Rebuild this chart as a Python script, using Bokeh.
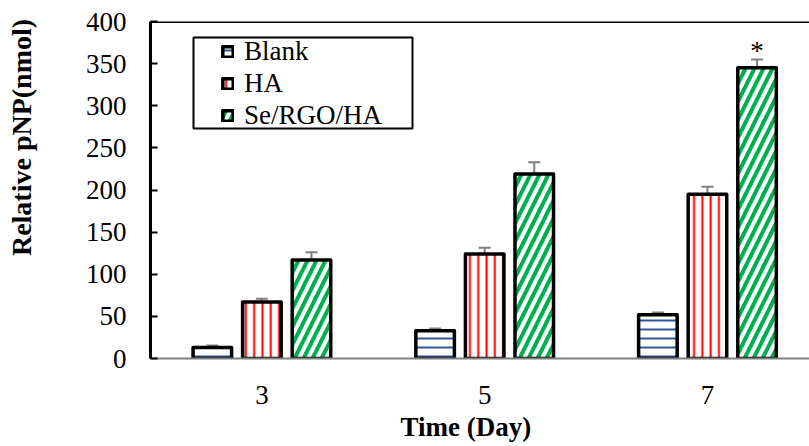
from bokeh.plotting import figure
from bokeh.models import (ColumnDataSource, FixedTicker, Legend, LegendItem, Whisker,
                          TeeHead, Span, BoxAnnotation, Title)
from bokeh.core.properties import value
from bokeh.embed import file_html
from bokeh.resources import INLINE

# ---- data ----
days = ["3", "5", "7"]
series = ["Blank", "HA", "Se/RGO/HA"]
blank = [13, 33, 52]
blank_err = [2.5, 2.5, 2.5]
ha = [67, 124, 195]
ha_err = [4, 7.5, 9]
se = [117, 219, 345]
se_err = [9, 14, 10]
se_marks = ["", "", "*"]
y_ticks = [0, 50, 100, 150, 200, 250, 300, 350, 400]
y_max = 400
x_title = "Time (Day)"
y_title = "Relative pNP(nmol)"

FONT = "Liberation Serif"

p = figure(frame_width=659, frame_height=337, x_range=(-0.5, 2.458), y_range=(0, y_max),
           output_backend="svg", toolbar_location=None,
           min_border_top=21, min_border_left=150, min_border_right=0, min_border_bottom=88)
p.xgrid.visible = False
p.ygrid.visible = False
p.outline_line_color = None
p.background_fill_color = "white"

# y axis
ya = p.yaxis[0]
ya.ticker = FixedTicker(ticks=y_ticks)
ya.axis_line_color = "black"
ya.axis_line_width = 3
ya.major_tick_in = 7
ya.major_tick_out = 0
ya.major_tick_line_width = 2
ya.major_tick_line_color = "black"
ya.minor_tick_line_color = None
ya.major_label_text_font = FONT
ya.major_label_text_font_size = "27px"
ya.major_label_text_color = "black"
ya.major_label_standoff = 24
# leading no-break spaces shift the centred title towards the top, as in the original
ya.axis_label = "\u00a0" * 15 + y_title
ya.axis_label_text_font = FONT
ya.axis_label_text_font_size = "28px"
ya.axis_label_text_font_style = "bold"
ya.axis_label_text_color = "black"
ya.axis_label_standoff = 46

# x axis
xa = p.xaxis[0]
xa.ticker = FixedTicker(ticks=list(range(len(days))))
xa.major_label_overrides = {i: d for i, d in enumerate(days)}
xa.axis_line_color = "#7f7f7f"
xa.axis_line_width = 2
xa.major_tick_line_color = None
xa.minor_tick_line_color = None
xa.major_label_text_font = FONT
xa.major_label_text_font_size = "27px"
xa.major_label_text_color = "black"
xa.major_label_standoff = 21

# x title
p.add_layout(Title(text=x_title, align="left", offset=250, standoff=6,
                   text_font=FONT, text_font_size="27px", text_font_style="bold",
                   text_color="black"), "below")

# top border
p.add_layout(Span(location=y_max, dimension="width", line_color="black", line_width=3))

offsets = [-0.2225, 0.0, 0.2225]
bar_w = 0.173
styles = [
    dict(hatch_pattern="horizontal_line", hatch_color="#2F5597", hatch_scale=9, hatch_weight=2),
    dict(hatch_pattern="vertical_line", hatch_color="#FF0000", hatch_scale=8.3, hatch_weight=2),
    dict(hatch_pattern="right_diagonal_line", hatch_color="#00B050", hatch_scale=18, hatch_weight=4),
]
vals = [blank, ha, se]
errs = [blank_err, ha_err, se_err]
renderers = []
sources = []
for k in range(3):
    xs = [i + offsets[k] for i in range(len(days))]
    src = ColumnDataSource(dict(x=xs, top=vals[k],
                                upper=[v + e for v, e in zip(vals[k], errs[k])]))
    sources.append(src)
    w = Whisker(base="x", lower="top", upper="upper", source=src,
                line_color="#7f7f7f", line_width=2,
                upper_head=TeeHead(size=12, line_color="#7f7f7f", line_width=2),
                lower_head=None)
    p.add_layout(w)
    r = p.vbar(x="x", top="top", bottom=0, width=bar_w, source=src,
               fill_color="white", line_color="black", line_width=3.5, line_join="round",
               **styles[k])
    renderers.append(r)

# significance mark
star_src = ColumnDataSource(dict(x=sources[2].data["x"], y=sources[2].data["upper"], t=se_marks))
p.text(x="x", y="y", text="t", source=star_src, text_font=value(FONT), text_font_size="27px",
       text_align="center", text_baseline="alphabetic", y_offset=-8, text_color="black")

legend = Legend(items=[LegendItem(label=s, renderers=[r]) for s, r in zip(series, renderers)],
                location=(67, 223), padding=4, spacing=1, margin=0,
                glyph_width=13, glyph_height=13, label_standoff=10,
                label_text_font=FONT, label_text_font_size="27px", label_text_color="black",
                border_line_alpha=0, background_fill_alpha=0)
p.add_layout(legend)

p.add_layout(BoxAnnotation(left=193, right=412, top=37, bottom=128,
                           left_units="canvas", right_units="canvas",
                           top_units="canvas", bottom_units="canvas",
                           fill_alpha=0, line_color="black", line_width=2, line_alpha=1))

open("out.html", "w").write(file_html(p, INLINE))
